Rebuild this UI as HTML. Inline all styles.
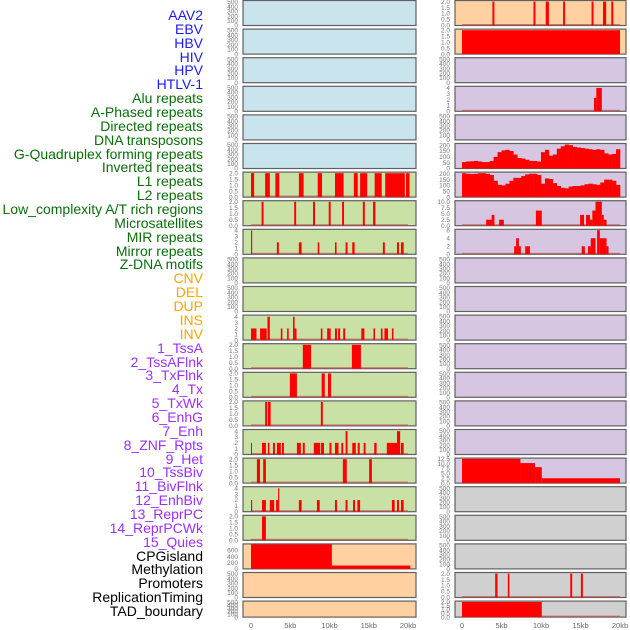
<!DOCTYPE html>
<html><head><meta charset="utf-8">
<style>
html,body{margin:0;padding:0;background:#fff;width:630px;height:630px;overflow:hidden}
#labels{position:absolute;left:0;top:0;width:203px;font-family:"Liberation Sans",sans-serif;font-size:14px;text-align:right}
#labels div{position:absolute;right:0;white-space:nowrap;line-height:14px}
svg{position:absolute;left:0;top:0}
</style></head>
<body>
<div id="labels"></div>
<svg id="chart" width="630" height="630"></svg>
<script>
const labelNames = ["AAV2","EBV","HBV","HIV","HPV","HTLV-1","Alu repeats","A-Phased repeats","Directed repeats","DNA transposons","G-Quadruplex forming repeats","Inverted repeats","L1 repeats","L2 repeats","Low_complexity A/T rich regions","Microsatellites","MIR repeats","Mirror repeats","Z-DNA motifs","CNV","DEL","DUP","INS","INV","1_TssA","2_TssAFlnk","3_TxFlnk","4_Tx","5_TxWk","6_EnhG","7_Enh","8_ZNF_Rpts","9_Het","10_TssBiv","11_BivFlnk","12_EnhBiv","13_ReprPC","14_ReprPCWk","15_Quies","CPGisland","Methylation","Promoters","ReplicationTiming","TAD_boundary"];
const labelGroups = ["v","v","v","v","v","v","r","r","r","r","r","r","r","r","r","r","r","r","r","s","s","s","s","s","c","c","c","c","c","c","c","c","c","c","c","c","c","c","c","o","o","o","o","o"];

const xTickKb = [0,5,10,15,20];
const xTickText = ["0","5kb","10kb","15kb","20kb"];

// bar data: [startKb, endKb, value]
const L6 = [[0,0.4,2],[1.8,2.4,2],[3.1,3.6,2],[6.1,6.7,2],[8.5,9.05,2],[10.7,11.8,2],[13.1,13.6,2],[13.9,14.8,2],[15.75,16.65,2],[17.1,19.6,2],[19.75,20.2,2]];
const L7 = [[1.35,1.6,2],[5.5,5.75,2],[7.9,8.15,2],[9.9,10.15,2],[11.6,11.85,2],[14.25,14.5,2],[15.55,15.85,2]];
const L8 = [[0,0.15,4],[3.3,3.55,2],[6.1,6.45,2],[8.5,8.7,2],[10.7,10.9,2],[12.05,12.3,2],[12.9,13.2,2],[16.8,17.05,2],[18.6,18.85,2],[19.1,19.45,2]];
const L11 = [[0,0.7,2],[1.15,2.0,2],[2.1,2.4,4],[3.8,4.0,2],[4.6,4.8,2],[5.35,5.55,4],[5.55,5.8,2],[8.9,9.1,2],[9.7,10.15,2],[10.7,10.95,2],[11.1,11.35,2],[11.75,12.0,2],[14.05,14.45,2],[15.6,15.8,2],[16.55,16.75,2],[17.0,17.45,2],[17.95,18.15,2]];
const L12 = [[6.6,7.65,2],[12.85,14.0,2]];
const L13 = [[4.95,5.85,2],[9.0,9.4,2],[9.8,10.2,2]];
const L14 = [[1.8,2.05,2],[2.15,2.5,2],[8.9,9.15,2]];
const L15 = [[0,0.1,2],[1.4,1.9,2],[2.15,2.35,2],[2.8,3.05,2],[3.3,3.8,2],[3.95,4.2,2],[5.85,6.35,2],[6.6,6.85,2],[8.0,8.8,2],[8.9,9.3,2],[10.0,10.25,2],[10.7,11.15,2],[11.5,11.75,2],[12.05,12.3,4],[12.9,13.35,2],[13.6,13.85,2],[14.35,14.6,2],[15.7,16.0,2],[17.3,18.6,2],[18.6,19.0,4],[19.1,19.45,2]];
const L16 = [[0.75,1.15,2],[1.55,1.9,2],[11.7,12.2,2],[15.05,15.4,2]];
const L17 = [[0,0.15,2],[1.4,1.9,2],[2.4,2.95,2],[3.2,3.45,2],[3.45,3.6,4],[6.1,6.45,2],[8.4,8.75,2],[10.7,10.95,2],[12.05,12.3,2],[13.0,13.25,2],[13.55,13.9,2],[17.95,18.3,2],[18.6,18.85,2],[19.1,19.45,2]];
const L18 = [[1.4,1.9,2]];
const L19 = [[0,10.3,800],[10.3,20.3,110]];
const R0 = [[3.85,4.1,2],[9.05,9.3,2],[10.6,11.0,2],[12.8,13.05,2],[16.4,16.65,2],[17.85,18.25,2],[18.9,19.15,2]];
const R1 = [[0,20,2]];
const R3 = [[16.7,17.0,2.3],[17.0,17.7,4]];
const R7 = [[3.05,3.75,2.5],[3.75,4.1,4.5],[4.7,5.3,2.5],[9.35,10.1,6.3],[14.95,15.45,4.5],[15.7,16.2,4.5],[16.2,16.5,2.5],[16.5,16.9,6.3],[16.9,17.7,10],[17.7,17.95,4.5],[17.95,18.3,2.5]];
const R8 = [[6.6,6.85,2],[6.85,7.2,4],[7.2,7.45,2],[8.0,8.6,2],[15.15,15.55,2],[15.95,16.3,2],[16.3,16.9,4],[17.1,17.45,6],[17.45,18.3,4],[18.3,18.55,2]];
const R16 = [[0,7.4,12.5],[7.4,9.25,10.3],[9.25,10.1,8.2],[10.1,20,2.5]];
const R20 = [[4.2,4.5,2],[5.8,6.0,2],[13.7,13.95,2],[15.05,15.3,2]];
const R21 = [[0,10.1,2]];
// profile data: values per 0.5kb bin
const R5 = [55,60,62,65,60,55,55,65,100,140,155,160,150,120,90,85,75,65,65,60,140,160,110,120,170,190,205,200,185,180,175,170,165,160,165,160,130,120,125,165];
const R6 = [205,200,198,200,205,205,200,190,140,105,100,115,140,165,165,180,195,200,200,190,115,160,155,120,95,80,75,90,95,95,100,110,115,110,105,125,150,150,140,105];

const tEmpty = ["0","100","200","300","400","500"];
const t2 = ["0.0","0.5","1.0","1.5","2.0"];
const t4 = ["0","1","2","3","4"];
const t200 = ["0","50","100","150","200"];
const t10 = ["0.0","2.5","5.0","7.5","10.0"];
const t6 = ["0","2","4","6"];
const t12 = ["0.0","2.5","5.0","7.5","10.0","12.5"];
const t600 = ["0","200","400","600"];

const C = {b:"#c9e4ec",g:"#c9e1a5",o:"#ffd1a0",p:"#d6c6e2",y:"#d0d0d0"};
const leftBg = ["b","b","b","b","b","b","g","g","g","g","g","g","g","g","g","g","g","g","g","o","o","o"];
const rightBg = ["o","o","p","p","p","p","p","p","p","p","p","p","p","p","p","p","p","y","y","y","y","y"];
const leftData = {6:[L6,t2,2.05],7:[L7,t2,2.05],8:[L8,t4,4.1],11:[L11,t4,4.2],12:[L12,t2,2.05],13:[L13,t2,2.05],14:[L14,t2,2.05],15:[L15,t4,4.2],16:[L16,t2,2.05],17:[L17,t4,4.2],18:[L18,t2,2.05],19:[L19,t600,800]};
const rightData = {0:[R0,t2,2.05],1:[R1,t2,2.05],3:[R3,t4,4.2],7:[R7,t10,10.2],8:[R8,t6,6.1],16:[R16,t12,12.6],20:[R20,t2,2.05],21:[R21,t2,2.05]};
const rightProf = {5:[R5,t200,210],6:[R6,t200,210]};

// labels
const lab = document.getElementById('labels');
const gc = {v:"#1a1aff",r:"#0a6e0a",s:"#ffa500",c:"#9b30ff",o:"#000"};
labelNames.forEach((n,i)=>{
  const d=document.createElement('div');
  
  
  d.textContent=n;
  d.style.color=gc[labelGroups[i]];
  d.style.top=(8+i*13.86)+'px';
  lab.appendChild(d);
});

const svg=document.getElementById('chart');
const NS="http://www.w3.org/2000/svg";
function mk(tag,attrs){const e=document.createElementNS(NS,tag);for(const k in attrs)e.setAttribute(k,attrs[k]);svg.appendChild(e);return e;}
const cols = {L:{x0:243,x1:416,z:251,s:7.85,tx:238},R:{x0:455,x1:626,z:462,s:7.9,tx:450}};
function rowTop(i){return i*28.6+0.5;}
function rowH(i){return i===21?16:25;}

function drawPanel(col,i,bg,bars,prof,ticks,ymax){
  const c=cols[col], top=rowTop(i), h=rowH(i), bot=top+h;
  const r=mk('rect',{x:c.x0,y:top,width:c.x1-c.x0,height:h,fill:C[bg],stroke:"#606060","stroke-width":1.2});
  
  
  const ys=v=>bot-v/ymax*(h-0.5);
  const xs=kb=>c.z+kb*c.s;
  const n=ticks.length;
  ticks.forEach((t,k)=>{
    const v=parseFloat(t);
    const tt=mk('text',{x:c.tx,y:ys(v)+2.2,"font-size":6.5,fill:"#777","text-anchor":"end","font-family":"Liberation Sans, sans-serif"});
    
    
    tt.textContent=t;
  });
  if(bars||prof){
    const bl=mk('rect',{x:xs(0),y:bot-1.5,width:20*c.s,height:1.5,fill:"#c0504d",opacity:0.7});
    
    
  }
  if(bars){bars.forEach(b=>{
    const y=Math.max(top,ys(b[2]));
    const e=mk('rect',{x:xs(b[0]),y:y,width:Math.max(1,xs(b[1])-xs(b[0])),height:bot-y,fill:"#ff0000"});
    
    
  });}
  if(prof){prof.forEach((v,k)=>{
    const y=Math.max(top,ys(v));
    const e=mk('rect',{x:xs(k*0.5),y:y,width:0.5*c.s+0.3,height:bot-y,fill:"#ff0000"});
    
    
  });}
}
for(let i=0;i<22;i++){
  const ld=leftData[i];
  if(ld) drawPanel('L',i,leftBg[i],ld[0],null,ld[1],ld[2]);
  else drawPanel('L',i,leftBg[i],null,null,tEmpty,520);
  const rd=rightData[i], rp=rightProf[i];
  if(rd) drawPanel('R',i,rightBg[i],rd[0],null,rd[1],rd[2]);
  else if(rp) drawPanel('R',i,rightBg[i],null,rp[0],rp[1],rp[2]);
  else drawPanel('R',i,rightBg[i],null,null,tEmpty,520);
}
['L','R'].forEach(col=>{
  const c=cols[col];
  xTickKb.forEach((kb,k)=>{
    const t=mk('text',{x:c.z+kb*c.s,y:628,"font-size":7.5,fill:"#666","text-anchor":"middle","font-family":"Liberation Sans, sans-serif"});
    
    
    t.textContent=xTickText[k];
  });
});
</script>
</body></html>
